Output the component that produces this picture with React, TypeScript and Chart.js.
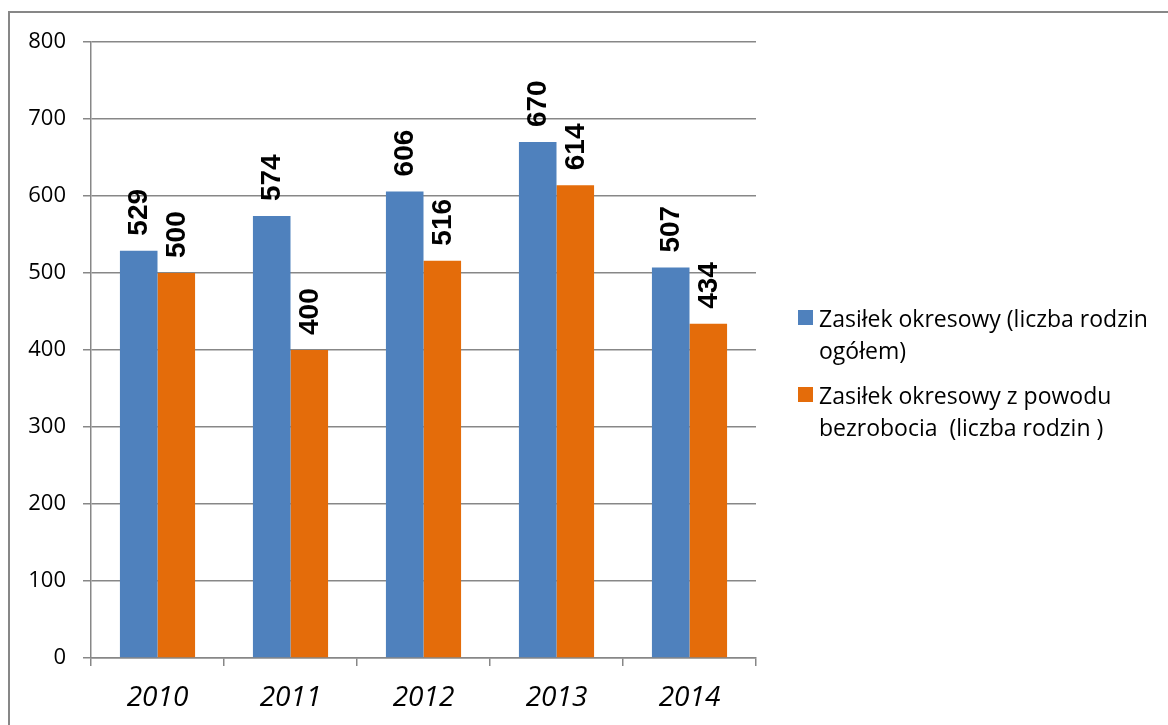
import React, { useEffect, useRef } from "react";
import { Chart, registerables } from "chart.js";

Chart.register(...registerables);

const categories = ["2010", "2011", "2012", "2013", "2014"];
const seriesTotal = [529, 574, 606, 670, 507];
const seriesUnemployment = [500, 400, 516, 614, 434];
const seriesNames = [
  "Zasiłek okresowy (liczba rodzin ogółem)",
  "Zasiłek okresowy z powodu bezrobocia  (liczba rodzin )",
];
const legendLines = [
  ["Zasiłek okresowy (liczba rodzin", "ogółem)"],
  ["Zasiłek okresowy z powodu", "bezrobocia  (liczba rodzin )"],
];
const yMin = 0;
const yMax = 800;
const yStep = 100;

const BLUE = "#4F81BD";
const ORANGE = "#E46C0A";
const GRID = "#878787";

const valueLabels = {
  id: "valueLabels",
  afterDatasetsDraw(chart: any) {
    const ctx = chart.ctx;
    ctx.save();
    ctx.font = "bold 28px 'Liberation Sans', Arial, sans-serif";
    ctx.fillStyle = "#000";
    ctx.textAlign = "left";
    ctx.textBaseline = "middle";
    chart.data.datasets.forEach((ds: any, i: number) => {
      const meta = chart.getDatasetMeta(i);
      meta.data.forEach((bar: any, j: number) => {
        ctx.save();
        ctx.translate(bar.x + 1, bar.y - 15);
        ctx.rotate(-Math.PI / 2);
        ctx.fillText(String(ds.data[j]), 0, 0);
        ctx.restore();
      });
    });
    ctx.restore();
  },
};

const sideLegend = {
  id: "sideLegend",
  afterDraw(chart: any) {
    const ctx = chart.ctx;
    ctx.save();
    ctx.font = "23px 'Open Sans', sans-serif";
    ctx.textAlign = "left";
    ctx.textBaseline = "alphabetic";
    const baselines = [327, 404];
    chart.data.datasets.forEach((ds: any, i: number) => {
      const base = baselines[i];
      ctx.fillStyle = ds.backgroundColor;
      ctx.fillRect(798, base - 17, 15, 15);
      ctx.fillStyle = "#000";
      legendLines[i].forEach((line, k) => {
        ctx.fillText(line, 819, base + k * 32);
      });
    });
    ctx.restore();
  },
};

export default function App() {
  const ref = useRef<HTMLCanvasElement>(null);

  useEffect(() => {
    if (!ref.current) return;
    const chart = new Chart(ref.current, {
      type: "bar",
      data: {
        labels: categories,
        datasets: [
          { label: seriesNames[0], data: seriesTotal, backgroundColor: BLUE },
          { label: seriesNames[1], data: seriesUnemployment, backgroundColor: ORANGE },
        ],
      },
      options: {
        animation: false,
        responsive: false,
        maintainAspectRatio: false,
        layout: { padding: { left: 0, top: 42, right: 412, bottom: 0 } },
        datasets: { bar: { categoryPercentage: 0.565, barPercentage: 1 } },
        plugins: {
          legend: { display: false },
          tooltip: { enabled: false },
        },
        scales: {
          x: {
            offset: true,
            grid: {
              display: true,
              drawOnChartArea: false,
              drawTicks: true,
              tickLength: 8,
              color: GRID,
              lineWidth: 1.5,
            },
            border: { display: true, color: GRID, width: 1.5 },
            ticks: {
              color: "#000",
              padding: 15,
              font: { family: "'Open Sans', sans-serif", size: 28, style: "italic" },
            },
            afterFit(scale: any) {
              scale.height = 67;
            },
          },
          y: {
            min: yMin,
            max: yMax,
            ticks: {
              stepSize: yStep,
              color: "#000",
              padding: 17,
              font: { family: "'Open Sans', sans-serif", size: 22 },
            },
            grid: {
              color: GRID,
              lineWidth: 1.5,
              tickLength: 8,
              drawTicks: true,
            },
            border: { display: true, color: GRID, width: 1.5 },
            afterFit(scale: any) {
              scale.width = 91;
            },
          },
        },
      },
      plugins: [valueLabels, sideLegend],
    });
    return () => chart.destroy();
  }, []);

  return (
    <div
      style={{
        position: "fixed",
        left: 0,
        top: 0,
        width: 1168,
        height: 725,
        overflow: "hidden",
        background: "#fff",
      }}
    >
      <div
        style={{
          position: "absolute",
          left: 8,
          top: 11,
          width: 1400,
          height: 900,
          border: "2px solid #878787",
          boxSizing: "border-box",
        }}
      />
      <canvas
        ref={ref}
        width={1168}
        height={725}
        style={{ position: "absolute", left: 0, top: 0, width: 1168, height: 725 }}
      />
    </div>
  );
}
